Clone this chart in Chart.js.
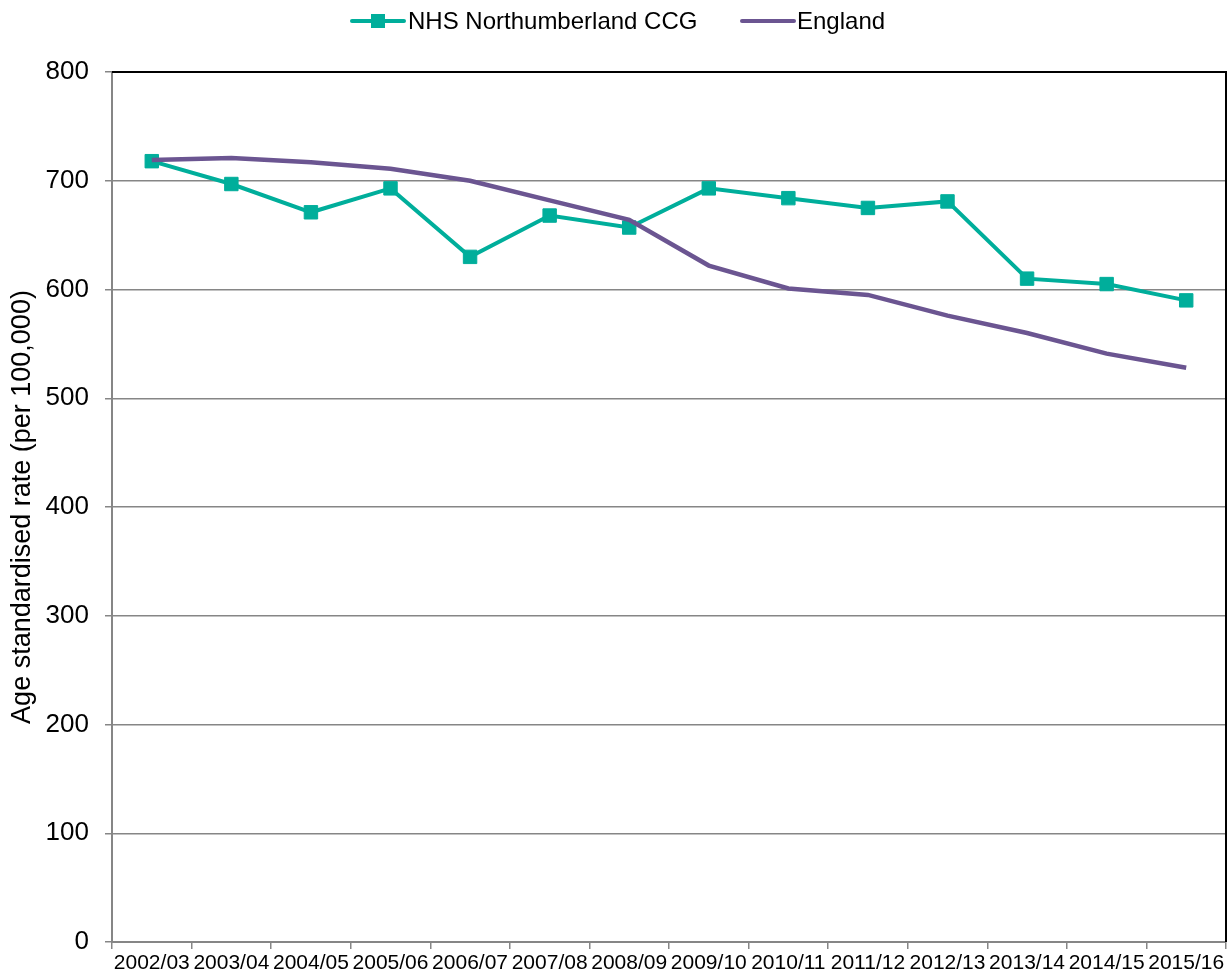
<!DOCTYPE html>
<html>
<head>
<meta charset="utf-8">
<script src="https://cdn.jsdelivr.net/npm/chart.js@4"></script>
<style>
  html, body { margin: 0; padding: 0; background: #fff; overflow: hidden; }
  canvas { display: block; }
</style>
</head>
<body>
<canvas id="chart" width="1227" height="978"></canvas>
<script>
const years = ['2002/03', '2003/04', '2004/05', '2005/06', '2006/07', '2007/08', '2008/09',
  '2009/10', '2010/11', '2011/12', '2012/13', '2013/14', '2014/15', '2015/16'];
const northumberland = [718, 697, 671, 693, 630, 668, 657, 693, 684, 675, 681, 610, 605, 590];
const england = [719, 721, 717, 711, 700, 682, 664, 622, 601, 595, 576, 560, 541, 528];
const yTicks = [0, 100, 200, 300, 400, 500, 600, 700, 800];

const TEAL = '#00AE9B';
const PURPLE = '#6B5591';
const GRID = '#868686';
const FONT = "'Liberation Sans', Arial, sans-serif";

// legend drawn by hand: line + marker, like the office chart
const legendPlugin = {
  id: 'officeLegend',
  afterDraw(chart) {
    const ctx = chart.ctx;
    const y = 21;
    ctx.save();
    ctx.lineWidth = 4;
    ctx.lineCap = 'round';
    ctx.strokeStyle = TEAL;
    ctx.beginPath(); ctx.moveTo(352, y); ctx.lineTo(404, y); ctx.stroke();
    ctx.fillStyle = TEAL;
    ctx.fillRect(371, y - 7, 14, 14);
    ctx.strokeStyle = PURPLE;
    ctx.beginPath(); ctx.moveTo(742, y); ctx.lineTo(794, y); ctx.stroke();
    ctx.fillStyle = '#000';
    ctx.font = '24px ' + FONT;
    ctx.textBaseline = 'middle';
    ctx.fillText('NHS Northumberland CCG', 408, y + 1);
    ctx.fillText('England', 797, y + 1);
    ctx.restore();
  }
};

// black frame on top and right of plot area
const framePlugin = {
  id: 'frame',
  beforeDatasetsDraw(chart) {
    const { ctx, chartArea: a } = chart;
    ctx.save();
    ctx.strokeStyle = '#000';
    ctx.lineWidth = 2;
    ctx.beginPath();
    ctx.moveTo(a.left, a.top);
    ctx.lineTo(a.right, a.top);
    ctx.lineTo(a.right, a.bottom);
    ctx.stroke();
    ctx.restore();
  }
};

new Chart(document.getElementById('chart'), {
  type: 'line',
  data: {
    labels: years,
    datasets: [
      {
        label: 'NHS Northumberland CCG',
        data: northumberland,
        borderColor: TEAL,
        backgroundColor: TEAL,
        borderWidth: 4,
        pointStyle: 'rect',
        pointRadius: 9.5,
        pointBorderWidth: 1,
        pointBackgroundColor: TEAL,
        pointBorderColor: TEAL,
        tension: 0,
        order: 1
      },
      {
        label: 'England',
        data: england,
        borderColor: PURPLE,
        backgroundColor: PURPLE,
        borderWidth: 4.5,
        pointRadius: 0,
        tension: 0,
        order: 0
      }
    ]
  },
  options: {
    responsive: false,
    animation: false,
    devicePixelRatio: 1,
    layout: { autoPadding: false, padding: { top: 72, right: 1, left: 0, bottom: 0 } },
    plugins: {
      legend: { display: false },
      tooltip: { enabled: false }
    },
    scales: {
      x: {
        offset: true,
        grid: { display: true, offset: true, drawOnChartArea: false, drawTicks: true, tickLength: 7, color: GRID, lineWidth: 1.5 },
        border: { color: GRID, width: 2 },
        ticks: { color: '#000', font: { family: FONT, size: 21 }, maxRotation: 0, autoSkip: false, padding: 2 },
        afterFit: s => { s.height = 36; s.paddingLeft = 0; s.paddingRight = 0; }
      },
      y: {
        min: 0,
        max: 800,
        afterBuildTicks: s => { s.ticks = yTicks.map(v => ({ value: v })); },
        grid: { color: GRID, lineWidth: 1.5, tickLength: 7 },
        border: { color: GRID, width: 2 },
        ticks: { color: '#000', font: { family: FONT, size: 26 }, padding: 16 },
        title: { display: true, text: 'Age standardised rate (per 100,000)', color: '#000', font: { family: FONT, size: 27 }, padding: { top: 6, bottom: 0 } },
        afterFit: s => { s.width = 112; s.paddingTop = 0; s.paddingBottom = 0; }
      }
    }
  },
  plugins: [framePlugin, legendPlugin]
});
</script>
</body>
</html>
